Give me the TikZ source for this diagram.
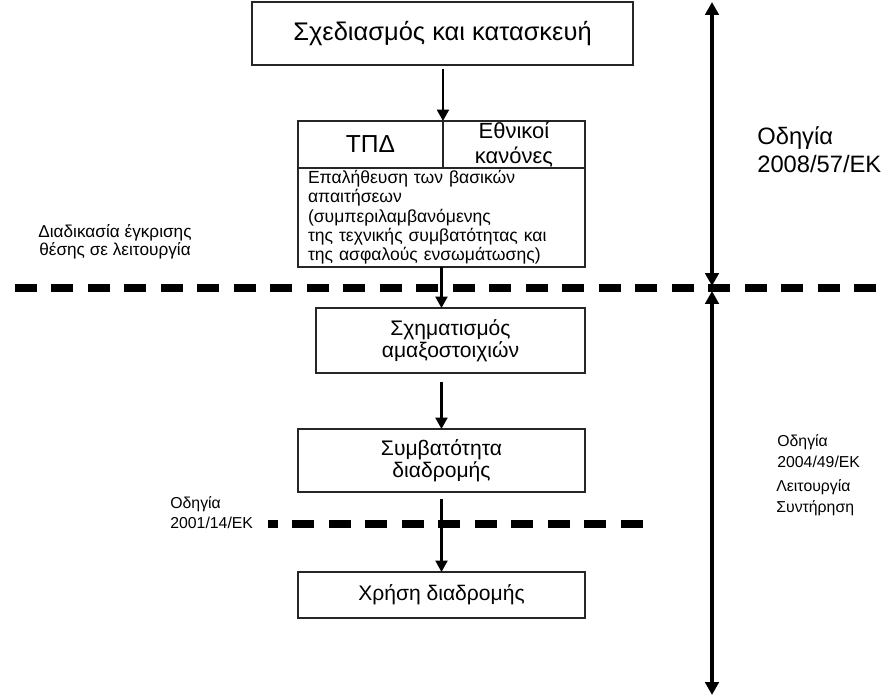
\documentclass[tikz,border=0pt]{standalone}
\usepackage{fontspec}
\setmainfont{Liberation Sans}
\usetikzlibrary{arrows.meta}

\begin{document}
\begin{tikzpicture}[
    x=0.02cm, y=-0.02cm,
    box/.style={draw=black!85, line width=1pt, align=center, inner sep=0pt, outer sep=0pt, font=\fontsize{12}{11}\selectfont},
    flow/.style={-{Triangle[length=2.3mm, width=2.4mm]}, line width=1.4pt},
    span/.style={{Triangle[length=2.6mm, width=2.7mm]}-{Triangle[length=2.6mm, width=2.7mm]}, line width=2.2pt},
    divider/.style={line width=4.5pt, dash pattern=on 0.44cm off 0.29cm},
    note/.style={align=left, anchor=west, inner sep=0pt, font=\fontsize{9}{12}\selectfont}
]
\useasboundingbox (0,0) rectangle (889,699);

% flow of boxes
\node[box, minimum width=7.62cm, minimum height=1.26cm, font=\fontsize{14.5}{16}\selectfont] (design) at (442.5,33.5) {Σχεδιασμός και κατασκευή};
\node[box, anchor=north west, minimum width=2.9cm, minimum height=0.94cm, font=\fontsize{14}{16}\selectfont] (tpd) at (298,121) {ΤΠΔ};
\node[box, anchor=north west, minimum width=2.84cm, minimum height=0.94cm, font=\fontsize{12.5}{14.5}\selectfont] (nat) at (tpd.north east) {Εθνικοί\\κανόνες};
\node[box, anchor=north west, align=left, text width=5.34cm, inner xsep=0.2cm, minimum height=1.98cm, font=\fontsize{10}{11}\selectfont] (verif) at (tpd.south west) {Επαλήθευση των βασικών\\απαιτήσεων\\(συμπεριλαμβανόμενης\\της τεχνικής συμβατότητας και\\της ασφαλούς ενσωμάτωσης)};
\node[box, minimum width=5.38cm, minimum height=1.3cm] (form) at (450.5,340.5) {Σχηματισμός\\αμαξοστοιχιών};
\node[box, minimum width=5.74cm, minimum height=1.26cm] (compat) at (441.5,460.5) {Συμβατότητα\\διαδρομής};
\node[box, minimum width=5.74cm, minimum height=0.92cm] (use) at (441.5,595) {Χρήση διαδρομής};

\draw[flow, shorten <=2pt] (tpd.north east |- design.south) -- (tpd.north east);
\draw[flow] (verif.south) -- (verif.south |- form.north);
\draw[flow, shorten <=5pt] (verif.south |- form.south) -- (verif.south |- compat.north);
\draw[flow, shorten <=4pt] (compat.south) -- (use.north);

% dividers
\coordinate (d1w) at (15,288);
\coordinate (d1e) at (885,288);
\coordinate (d2w) at (268,524);
\coordinate (d2e) at (645,524);
\draw[divider] (d1w) -- (d1e);
\draw[divider, dash phase=0.24cm] (d2w) -- (d2e);

% spans on the right
\coordinate (s1) at (712,2);
\coordinate (s2) at (712,286);
\coordinate (s3) at (712,291);
\coordinate (s4) at (712,695);
\draw[span] (s1) -- (s2);
\draw[span] (s3) -- (s4);

% labels
\node[note, font=\fontsize{13.5}{16}\selectfont] (d0857) at (757,150) {Οδηγία\\2008/57/ΕΚ};
\node[note] (d0449) at (777,451) {Οδηγία\\2004/49/ΕΚ};
\node[note] (maint) at (776,498) {Λειτουργία\\Συντήρηση};
\node[note, font=\fontsize{9}{11.5}\selectfont] (d0114) at (170,513) {Οδηγία\\2001/14/ΕΚ};
\node[note, align=center, anchor=center, font=\fontsize{9.8}{10.5}\selectfont] (approval) at (115,242) {Διαδικασία έγκρισης\\θέσης σε λειτουργία};
\end{tikzpicture}
\end{document}
